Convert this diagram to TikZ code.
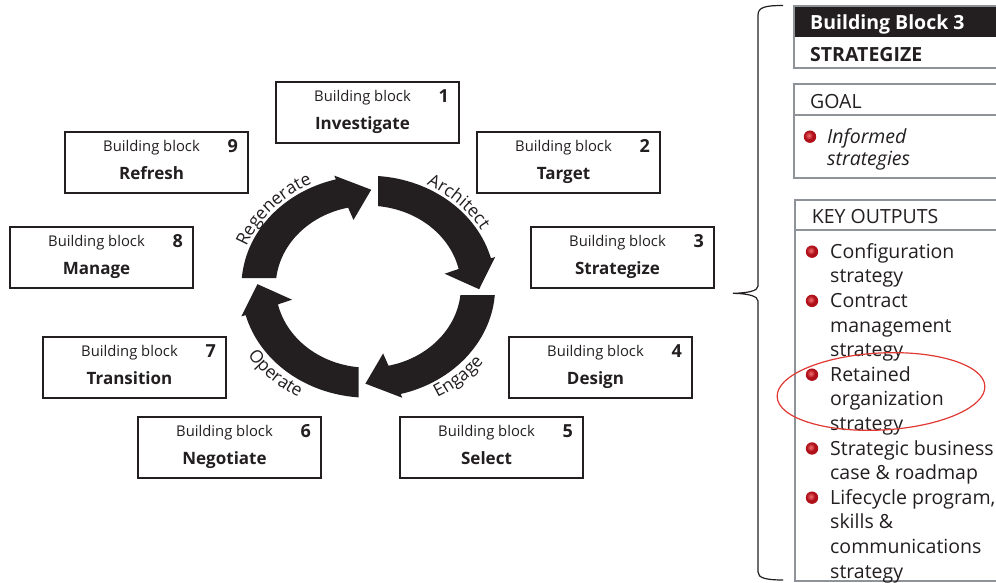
\documentclass[tikz,border=0pt]{standalone}
\usepackage{fontspec}
\setmainfont{Open Sans}
\usetikzlibrary{decorations.text}

\definecolor{ink}{HTML}{231F20}
\definecolor{panelgray}{HTML}{8E939A}
\definecolor{bulletred}{HTML}{B0101A}
\definecolor{bulletlight}{HTML}{F07070}
\definecolor{ringred}{HTML}{E03A33}

\newcommand\cyclabelfont{\fontsize{17.5}{19}\selectfont}
\newcommand\panelfont{\fontsize{19.5}{22}\selectfont}

\tikzset{
  bbox/.style={draw=ink, line width=1.4pt, fill=white, minimum width=183pt,
    minimum height=61pt, inner sep=0pt},
  bbtag/.style={text=ink, inner sep=0pt, font=\fontsize{14.8}{16}\selectfont},
  bbname/.style={text=ink, inner sep=0pt, font=\bfseries\fontsize{17}{19}\selectfont},
  bbnum/.style={text=ink, inner sep=0pt, font=\bfseries\fontsize{18}{20}\selectfont},
  cycarrow/.style={fill=ink},
  cyclabel/.style={postaction={decorate}, decoration={text along path,
    text align=center, text={|\cyclabelfont\color{ink}|#1}}},
  panelframe/.style={draw=panelgray, line width=2pt},
  paneltext/.style={text=ink, inner sep=0pt, anchor=base west, font=\panelfont},
  bullet/.style={inner color=bulletlight, outer color=bulletred},
  brace/.style={draw=ink, line width=1.2pt},
  ring/.style={draw=ringred, line width=1.2pt},
}

% one building block: name, centre, number, title
\newcommand\bblock[4]{%
  \node[bbox] (#1) at (#2) {};
  \node[bbtag, anchor=base] (#1-t) at ([shift={(-5,10.5)}]#1.center) {Building block};
  \node[bbnum, anchor=base east] (#1-n) at ([shift={(81.5,9.5)}]#1.center) {#3};
  \node[bbname, anchor=base] (#1-l) at ([shift={(-5,-17.5)}]#1.center) {#4};
}

% one quarter of the cycle: thick curved arrow from the top towards the right
\newcommand\cycarrowshape[1]{%
  \fill[cycarrow, rotate=#1] (8.5pt,80.55pt) -- (8.5pt,110.67pt)
    arc[start angle=85.6, end angle=14.8, radius=111pt]
    -- (15:115pt) -- (-1.5:97pt) -- (11:68pt) -- (12.6:81pt)
    arc[start angle=12.6, end angle=84, radius=81pt] -- cycle;}

% a round bullet with a soft highlight
\newcommand\ballbullet[1]{%
  \fill[bulletred] (#1) circle[radius=6.2pt];
  \shade[bullet] ([shift={(-1.2,1.2)}]#1) circle[radius=4.2pt];}

\begin{document}
\begin{tikzpicture}[x=1pt, y=1pt]
\useasboundingbox (0,0) rectangle (996,583);
\clip (0,0) rectangle (996,583);
\fill[white] (0,0) rectangle (996,583);

% building blocks around the cycle
\bblock{b1}{367.5,470.5}{1}{Investigate}
\bblock{b9}{156.5,420.5}{9}{Refresh}
\bblock{b2}{568.5,420.5}{2}{Target}
\bblock{b8}{101.5,325.5}{8}{Manage}
\bblock{b3}{622.5,325.5}{3}{Strategize}
\bblock{b7}{134.5,215.5}{7}{Transition}
\bblock{b4}{600.5,215.5}{4}{Design}
\bblock{b6}{229.5,135.5}{6}{Negotiate}
\bblock{b5}{491.5,135.5}{5}{Select}

% the cycle of four arrows
\coordinate (cyc) at (368.3,296.3);
\begin{scope}[shift={(cyc)}, xscale=1.143]
  \cycarrowshape{0}
  \cycarrowshape{-90}
  \cycarrowshape{180}
  \cycarrowshape{90}
\end{scope}

% phase names along the ring
\path[cyclabel=Architect] ([shift={(74:130pt and 114pt)}]cyc)
  arc[start angle=74, end angle=18, x radius=130pt, y radius=114pt];
\path[cyclabel=Regenerate] ([shift={(168:130pt and 114pt)}]cyc)
  arc[start angle=168, end angle=108, x radius=130pt, y radius=114pt];
\path[cyclabel=Engage] ([shift={(-78:143pt and 127pt)}]cyc)
  arc[start angle=-78, end angle=-18, x radius=143pt, y radius=127pt];
\path[cyclabel=Operate] ([shift={(196:143pt and 127pt)}]cyc)
  arc[start angle=196, end angle=256, x radius=143pt, y radius=127pt];

% brace
\draw[brace] (783,577.5) .. controls (766,577.5) and (758,576) .. (758,568)
  -- (758,297) .. controls (758,292) and (748,290) .. (733,289.7)
  .. controls (748,289.4) and (758,287) .. (758,282)
  -- (758,11) .. controls (758,5) and (766,3) .. (783,3);

% detail panel
\fill[ink] (794,577) rectangle (1010,546);
\draw[panelframe] (794,577) rectangle (1010,515);
\draw[panelframe] (794,499) rectangle (1010,468);
\draw[panelframe] (794,468) rectangle (1010,405);
\draw[panelframe] (795,383) rectangle (1010,353);
\draw[panelframe] (795,353) rectangle (1010,1.5);

\node[paneltext, text=white, font=\bfseries\panelfont] (hdr) at (810,553) {Building Block 3};
\node[paneltext, font=\bfseries\panelfont] (stage) at (810,521.3) {STRATEGIZE};
\node[paneltext] (goalhd) at (810,474.7) {GOAL};
\coordinate (gb) at (810,446.3);
\ballbullet{gb}
\node[paneltext, font=\itshape\panelfont] (goal1) at (827,439.7) {Informed};
\node[paneltext, font=\itshape\panelfont] (goal2) at (827,417.3) {strategies};
\node[paneltext] (outhd) at (811.7,359.7) {KEY OUTPUTS};

\foreach \ln [count=\i] in {Configuration, strategy, Contract, management,
    strategy, Retained, organization, strategy, Strategic business,
    case \& roadmap, {Lifecycle program,}, skills \&, communications, strategy}
  \node[paneltext] (out\i) at (830, {324.7-24.6*(\i-1)}) {\ln};
\foreach \i in {1,3,6,9,11}{
  \coordinate (ob\i) at (812, {331.3-24.6*(\i-1)});
  \ballbullet{ob\i}}

% highlight ring
\draw[ring, rotate around={3:(881,191.5)}] (881,191.5) ellipse[x radius=104pt, y radius=38.5pt];
\end{tikzpicture}
\end{document}
